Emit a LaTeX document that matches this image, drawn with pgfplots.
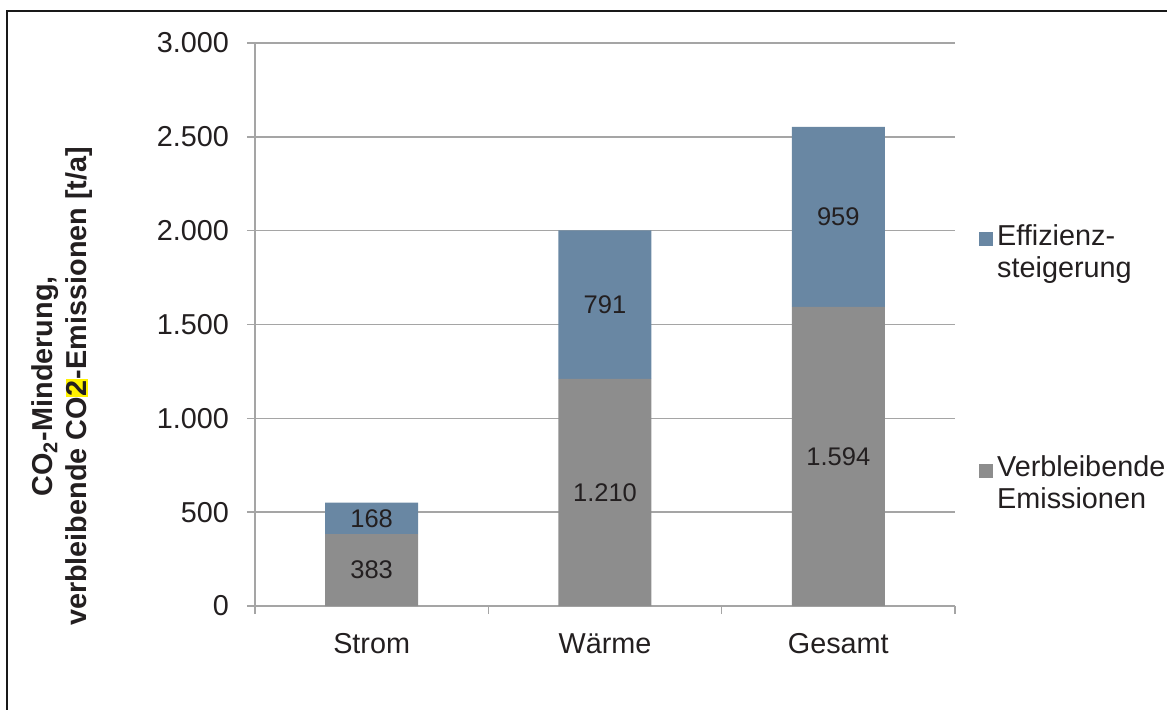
\documentclass[border=0pt]{standalone}
\usepackage{pgfplots}
\pgfplotsset{compat=1.18}
\usepackage{pgfplotstable}
\usepackage{fontspec}
\setmainfont{Liberation Sans}

\definecolor{emis}{RGB}{141,141,141}
\definecolor{effiz}{RGB}{105,135,163}
\definecolor{gridgray}{RGB}{165,165,165}
\definecolor{txt}{RGB}{35,31,32}

% Sektor, verbleibende Emissionen, Effizienzsteigerung [t/a]
\pgfplotstableread{
x rest eff
0 383 168
1 1210 791
2 1594 959
}\co

\begin{document}
\begin{tikzpicture}
\begin{axis}[
  scale only axis, width=350pt, height=281.5pt,
  at={(0,0)}, anchor=south west,
  xmin=-0.5, xmax=2.5, ymin=0, ymax=3000,
  ytick={0,500,...,3000},
  xtick={-0.5,0.5,1.5,2.5}, xticklabels={},
  extra x ticks={0,1,2}, extra x tick labels={Strom,Wärme,Gesamt},
  extra x tick style={major tick length=0pt, grid=none,
    xticklabel style={yshift=-9pt, text height=11pt, text depth=3pt}},
  axis x line*=bottom, axis y line*=left,
  axis line style={gridgray, line width=0.7pt, -},
  tick style={gridgray, line width=0.7pt},
  tick align=outside, major tick length=4pt,
  ymajorgrids, grid style={gridgray, line width=0.7pt},
  ybar stacked, bar width=46.5pt,
  /pgf/number format/.cd, 1000 sep={.}, assume math mode=true, /pgfplots/.cd,
  ticklabel style={font=\fontsize{14.4}{16}\selectfont, text=txt},
  yticklabel style={xshift=-5.5pt},
  ylabel={CO\textsubscript{2}-Minderung,\\verbleibende CO{\setlength\fboxsep{0.5pt}\colorbox{yellow}{2}}-Emissionen [t/a]},
  ylabel style={font=\bfseries\fontsize{14.4}{17}\selectfont, text=txt, align=center,
    at={(axis description cs:-0.275,0.39)}, anchor=center},
  legend style={draw=none, fill=none, inner sep=0pt, at={(1.034,0.686)}, anchor=north west,
    font=\fontsize{14.4}{16}\selectfont, text=txt, row sep=84pt,
    cells={anchor=west, align=left}},
  legend image code/.code={\fill[#1, draw=none] (0pt,3pt) rectangle (7pt,10pt);},
  reverse legend,
  nodes near coords,
  every node near coord/.append style={font=\fontsize{12.75}{14}\selectfont, text=txt,
    anchor=center},
]
\addplot[fill=emis, draw=none, point meta=\thisrow{rest}] table[x=x, y=rest] {\co};
\addplot[fill=effiz, draw=none, point meta=\thisrow{eff}] table[x=x, y=eff] {\co};
\legend{Verbleibende\\Emissionen, Effizienz-\\steigerung}
\end{axis}
\pgfresetboundingbox
\useasboundingbox (-127.5pt,-51.5pt) rectangle (456pt,303pt);
\draw[line width=1pt, black!90] (-123.75pt,-60pt) -- (-123.75pt,297.75pt) -- (470pt,297.75pt);
\end{tikzpicture}
\end{document}
